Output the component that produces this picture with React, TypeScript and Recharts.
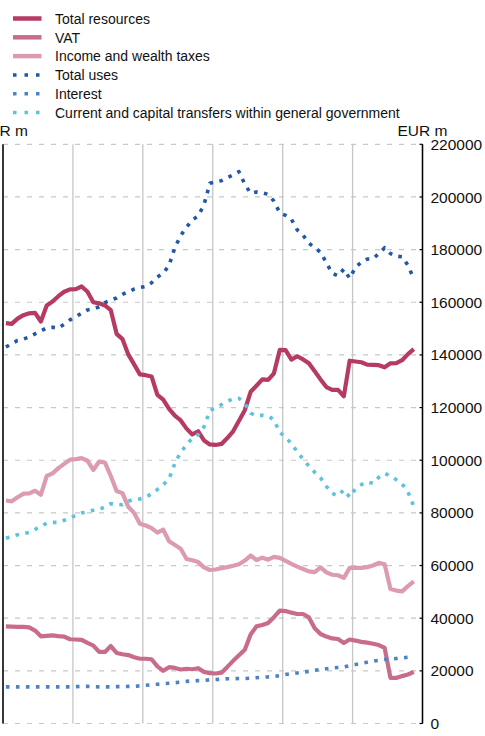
import React from "react";
import { CartesianGrid, Line, LineChart, XAxis, YAxis } from "recharts";

const FONT = '"Liberation Sans", Arial, Helvetica, sans-serif';

const years = ["2007", "2008", "2009", "2010", "2011", "2012"];
const valueTicks = [0, 20000, 40000, 60000, 80000, 100000, 120000, 140000, 160000, 180000, 200000, 220000];
const quarterTicks = Array.from({ length: 25 }, (_, i) => i * 3);
const yearBounds = [12, 24, 36, 48, 60];

// monthly values, Jan 2007 .. Nov 2012 (EUR m)
const totalResources = [
  152100, 151800, 153800, 155100, 155800, 156000, 152700, 158800, 160300, 162300,
  164000, 164900, 165000, 166000, 164000, 160000, 159600, 158800, 157000, 148000,
  146000, 140200, 136400, 132600, 132300, 131800, 124800, 123000, 119500, 116900,
  115100, 112000, 109800, 111000, 107500, 106000, 105800, 106200, 108400, 111000,
  115000, 119000, 126000, 128300, 130700, 130500, 133000, 141900, 141800, 138200,
  139500, 138300, 136800, 133800, 130700, 127800, 126700, 126700, 124300, 137800,
  137500, 137200, 136300, 136200, 136100, 135300, 136800, 136900, 138000, 140300,
  142200,
];
const vat = [
  36900, 36800, 36700, 36700, 36500, 35300, 33100, 33300, 33500, 33200,
  33000, 32000, 31900, 31800, 30600, 29600, 27200, 27200, 29400, 26800,
  26300, 26000, 25200, 24600, 24600, 24400, 21700, 20000, 21400, 21100,
  20500, 20800, 20600, 21000, 19600, 19100, 19000, 19300, 21500, 23800,
  25900, 28000, 33800, 36900, 37400, 38200, 40400, 42900, 42700, 42100,
  41600, 41600, 40300, 36200, 34000, 33000, 32300, 32100, 30600, 31900,
  31500, 31000, 30700, 30300, 29800, 28700, 17300, 17300, 18000, 18600,
  19600,
];
const incomeTaxes = [
  84700, 84400, 85900, 87300, 87400, 88400, 86900, 94000, 95000, 97000,
  98600, 100200, 100400, 100800, 99800, 96300, 99500, 99100, 94000, 88300,
  87500, 82300, 80000, 75900, 75200, 74200, 72500, 73600, 69200, 67800,
  66400, 62500, 62000, 61300, 59300, 58300, 58500, 59000, 59400, 59900,
  60500, 61900, 63800, 62100, 63000, 62200, 63300, 62900, 61800, 60600,
  59600, 58700, 57800, 57500, 59300, 57400, 56500, 56300, 55300, 59100,
  59100, 59100, 59400, 60000, 61000, 60500, 51100, 50500, 50200, 52200,
  54000,
];
const totalUses = [
  143000, 144300, 145500, 146000, 146800, 148000, 149100, 150300, 150500, 150200,
  151700, 153300, 154600, 155800, 157100, 157500, 158300, 159900, 160900, 161600,
  163000, 164000, 165000, 165600, 166000, 167400, 169600, 171000, 174000, 180800,
  185300, 188500, 191300, 192800, 197000, 205200, 205700, 206200, 207300, 208400,
  209600, 204800, 201400, 201900, 201600, 201000, 198400, 194000, 193000, 191500,
  187500, 185500, 182400, 180800, 179000, 175000, 171000, 170000, 172600, 169100,
  173300, 175200, 176400, 176500, 178500, 180700, 178500, 177500, 177300, 174000,
  169000,
];
const interest = [
  13900, 13900, 13900, 13900, 13900, 13900, 13900, 13900, 13900, 13900,
  13900, 13900, 14000, 14100, 14100, 14000, 13900, 13900, 13900, 14000,
  14000, 14100, 14100, 14300, 14500, 14700, 14900, 15100, 15300, 15500,
  15700, 16000, 16200, 16300, 16400, 16600, 16700, 16800, 17000, 17000,
  17100, 17100, 17200, 17400, 17600, 17700, 17900, 18200, 18600, 18900,
  19200, 19500, 19800, 20200, 20500, 20800, 21100, 21300, 21500, 22000,
  22400, 22900, 23300, 23700, 24000, 24300, 24500, 24700, 24900, 25200,
  25400,
];
const transfers = [
  70400, 71000, 71700, 72100, 72600, 73700, 75000, 76000, 76400, 76400,
  77200, 78000, 79100, 80000, 80500, 81000, 81300, 82300, 83500, 83300,
  83100, 84400, 85200, 85300, 86000, 87200, 88900, 90700, 92900, 98800,
  103100, 105800, 108500, 109700, 112700, 118800, 120000, 121100, 122300, 123400,
  123500, 121500, 117900, 116900, 117100, 116800, 115400, 110500, 108900, 106200,
  103300, 100400, 97800, 95400, 93300, 90100, 87400, 86500, 88800, 86000,
  89200, 90700, 91800, 91200, 93500, 95000, 94000, 92600, 91000, 88000,
  82500,
];

const series = [
  { key: "totalResources", name: "Total resources", color: "#b63a62", dotted: false },
  { key: "vat", name: "VAT", color: "#c96c8c", dotted: false },
  { key: "incomeTaxes", name: "Income and wealth taxes", color: "#dc9bb1", dotted: false },
  { key: "totalUses", name: "Total uses", color: "#2157a6", dotted: true },
  { key: "interest", name: "Interest", color: "#4d82c6", dotted: true },
  { key: "transfers", name: "Current and capital transfers within general government", color: "#5bc3dc", dotted: true },
];

const data = totalResources.map((_, i) => ({
  m: i + 0.5,
  totalResources: totalResources[i],
  vat: vat[i],
  incomeTaxes: incomeTaxes[i],
  totalUses: totalUses[i],
  interest: interest[i],
  transfers: transfers[i],
}));

function BottomTick(props: any) {
  const { x, y, payload } = props;
  const v = payload.value as number;
  const len = v % 12 === 0 ? 7 : 3;
  const label = v % 12 === 6 ? years[(v - 6) / 12] : null;
  return (
    <g>
      <line x1={x} x2={x} y1={y - len} y2={y} stroke="#000" strokeWidth={1.2} />
      {label && (
        <text x={x} y={y + 15.5} textAnchor="middle" fontSize={15.5} fontFamily={FONT} fill="#111">
          {label}
        </text>
      )}
    </g>
  );
}

function RightTick(props: any) {
  const { x, y, payload } = props;
  return (
    <g>
      <line x1={x - 11} x2={x - 8} y1={y} y2={y} stroke="#000" strokeWidth={1.2} />
      <text x={x} y={y} dy="0.36em" textAnchor="start" fontSize={15.5} fontFamily={FONT} fill="#111">
        {payload.value}
      </text>
    </g>
  );
}

function LeftTick(props: any) {
  const { x, y } = props;
  return <line x1={x} x2={x + 3} y1={y} y2={y} stroke="#000" strokeWidth={1.2} />;
}

function LegendAndTitles() {
  return (
    <svg width={485} height={145} style={{ position: "absolute", left: 0, top: 0 }}>
      {series.map((s, i) => {
        const cy = 18.5 + i * 18.8;
        return (
          <g key={s.key}>
            <line
              x1={13}
              x2={41.5}
              y1={cy}
              y2={cy}
              stroke={s.color}
              strokeWidth={s.dotted ? 3.5 : 4.5}
              strokeDasharray={s.dotted ? "3.5 8" : undefined}
            />
            <text x={55} y={cy + 5.3} fontSize={14} fontFamily={FONT} fill="#111">
              {s.name}
            </text>
          </g>
        );
      })}
      <text x={3} y={136} textAnchor="middle" fontSize={15.5} fontFamily={FONT} fill="#111">
        EUR m
      </text>
      <text x={422.5} y={136} textAnchor="middle" fontSize={15.5} fontFamily={FONT} fill="#111">
        EUR m
      </text>
    </svg>
  );
}

export default function App() {
  return (
    <div style={{ position: "absolute", left: 0, top: 0, width: 485, height: 736, background: "#fff", overflow: "hidden" }}>
      <LineChart
        width={485}
        height={736}
        data={data}
        margin={{ top: 144.3, right: 0, bottom: 11.5, left: 2 }}
      >
        <CartesianGrid
          yAxisId="r"
          vertical={false}
          stroke="#c8c8c8"
          strokeDasharray="5 7"
          strokeWidth={1.2}
        />
        <CartesianGrid xAxisId="grid" yAxisId="r" horizontal={false} stroke="#c6c6c6" strokeWidth={1.3} />
        <XAxis xAxisId="grid" dataKey="m" type="number" domain={[0, 72]} ticks={yearBounds} hide />
        <XAxis
          xAxisId="main"
          dataKey="m"
          type="number"
          domain={[0, 72]}
          ticks={quarterTicks}
          interval={0}
          tick={<BottomTick />}
          tickLine={false}
          tickSize={0}
          tickMargin={0}
          height={1}
          axisLine={{ stroke: "#000", strokeWidth: 2 }}
        />
        <YAxis
          yAxisId="l"
          orientation="left"
          type="number"
          domain={[0, 220000]}
          ticks={valueTicks}
          interval={0}
          width={1}
          tick={<LeftTick />}
          tickLine={false}
          tickSize={0}
          tickMargin={0}
          axisLine={{ stroke: "#000", strokeWidth: 1.5 }}
        />
        <YAxis
          yAxisId="r"
          orientation="right"
          type="number"
          domain={[0, 220000]}
          ticks={valueTicks}
          interval={0}
          width={62.5}
          tick={<RightTick />}
          tickLine={false}
          tickSize={0}
          tickMargin={8}
          axisLine={{ stroke: "#000", strokeWidth: 1.5 }}
        />
        {series.map((s) => (
          <Line
            key={s.key}
            xAxisId="main"
            yAxisId="r"
            type="linear"
            dataKey={s.key}
            name={s.name}
            stroke={s.color}
            strokeWidth={s.dotted ? 3.6 : 4.2}
            strokeDasharray={s.dotted ? "3.6 6.4" : undefined}
            strokeLinejoin="round"
            strokeLinecap="butt"
            dot={false}
            activeDot={false}
            isAnimationActive={false}
          />
        ))}
      </LineChart>
      <LegendAndTitles />
    </div>
  );
}
